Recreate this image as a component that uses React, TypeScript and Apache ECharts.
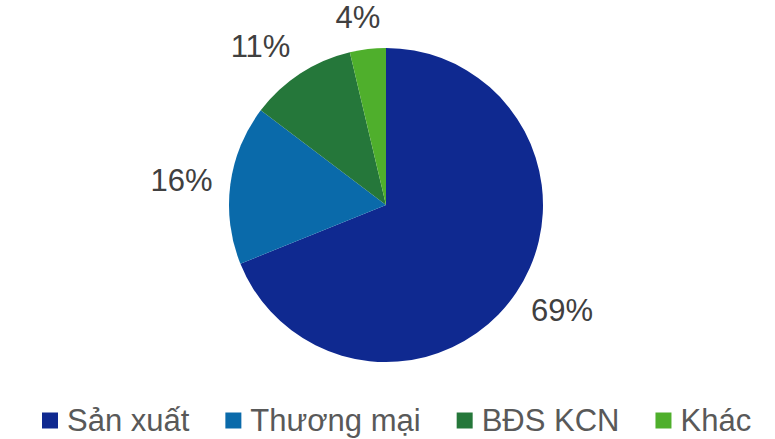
import React, { useEffect, useRef } from "react";
import * as echarts from "echarts";

const categories = ["Sản xuất", "Thương mại", "BĐS KCN", "Khác"];
const values = [68.9, 16.4, 11.0, 3.7];
const colors = ["#0F2990", "#0A6AAA", "#25773A", "#4FAF2C"];

const FONT = "Liberation Sans, Arial, sans-serif";
const CX = 386;
const CY = 205;
const R = 157;
const LABEL_DIST = 175;
const LABEL_SIZE = 31;

export default function App() {
  const ref = useRef<HTMLDivElement>(null);
  useEffect(() => {
    document.body.style.margin = "0";
    const chart = echarts.init(ref.current!, null, { renderer: "svg" });
    const total = values.reduce((a, b) => a + b, 0);
    const midAngles: number[] = [];
    let acc = 0;
    values.forEach((v) => {
      const mid = 90 - ((acc + v / 2) / total) * 360;
      midAngles.push((mid * Math.PI) / 180);
      acc += v;
    });
    chart.setOption({
      animation: false,
      color: colors,
      textStyle: { fontFamily: FONT },
      legend: {
        top: 400,
        left: 37,
        icon: "rect",
        itemWidth: 16,
        itemHeight: 16,
        itemGap: 36,
        textStyle: {
          fontSize: 31,
          color: "#595959",
          fontFamily: FONT,
          padding: [0, 0, 0, 4],
        },
        data: categories,
      },
      series: [
        {
          type: "pie",
          center: [CX, CY],
          radius: R,
          startAngle: 90,
          clockwise: true,
          data: categories.map((c, i) => ({ name: c, value: values[i] })),
          label: {
            show: true,
            position: "outside",
            formatter: (p: any) => Math.round(p.value) + "%",
            fontSize: LABEL_SIZE,
            color: "#404040",
            fontFamily: FONT,
          },
          labelLine: { show: false, length: 16, length2: 0 },
          labelLayout: (params: any) => {
            const a = midAngles[params.dataIndex];
            const ux = Math.cos(a);
            const uy = -Math.sin(a);
            const w = params.labelRect.width / 2;
            const fx = Math.max(-1, Math.min(1, ux * 3));
            return {
              x: CX + ux * LABEL_DIST + fx * w,
              y: CY + uy * LABEL_DIST + uy * 14,
              align: "center",
              verticalAlign: "middle",
            };
          },
          itemStyle: { borderWidth: 0 },
          emphasis: { disabled: true },
        },
      ],
    });
    return () => chart.dispose();
  }, []);
  return <div ref={ref} style={{ width: 775, height: 439 }} />;
}
